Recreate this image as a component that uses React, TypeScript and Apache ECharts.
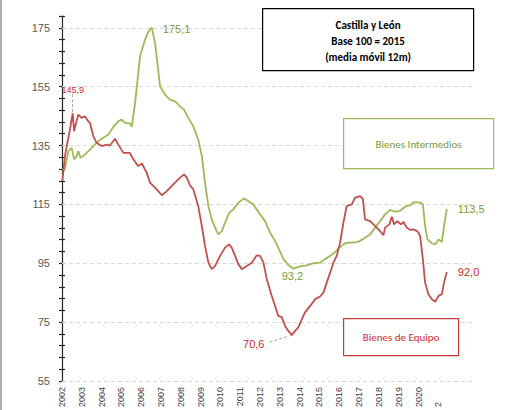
import React, { useEffect, useRef } from "react";
import * as echarts from "echarts";

// Decimal-year positions and values
const redYears = [2002.02, 2002.15, 2002.24, 2002.37, 2002.54, 2002.61, 2002.82, 2002.99, 2003.16, 2003.33, 2003.41, 2003.58, 2003.75, 2004.01, 2004.26, 2004.42, 2004.68, 2004.84, 2005.1, 2005.43, 2005.6, 2005.85, 2006.03, 2006.28, 2006.44, 2006.78, 2007.04, 2007.29, 2007.62, 2007.87, 2008.16, 2008.3, 2008.46, 2008.63, 2008.88, 2009.06, 2009.22, 2009.39, 2009.56, 2009.73, 2009.98, 2010.23, 2010.43, 2010.57, 2010.74, 2010.9, 2011.08, 2011.33, 2011.58, 2011.83, 2012.0, 2012.17, 2012.34, 2012.59, 2012.76, 2012.92, 2013.1, 2013.26, 2013.43, 2013.6, 2013.77, 2013.93, 2014.11, 2014.27, 2014.53, 2014.78, 2015.03, 2015.2, 2015.37, 2015.54, 2015.7, 2015.87, 2016.04, 2016.2, 2016.37, 2016.63, 2016.8, 2017.05, 2017.19, 2017.3, 2017.56, 2017.81, 2018.06, 2018.23, 2018.31, 2018.53, 2018.65, 2018.77, 2018.93, 2019.11, 2019.24, 2019.41, 2019.58, 2019.74, 2019.94, 2020.08, 2020.22, 2020.33, 2020.5, 2020.67, 2020.84, 2021.01, 2021.18, 2021.29, 2021.43];
const redValues = [123, 131.4, 134.8, 139.3, 145.9, 139.9, 145.5, 144.4, 144.9, 143.2, 142.7, 138.2, 135.9, 134.8, 135.3, 135, 137.3, 135.3, 132.5, 132.5, 130.3, 128, 128.9, 125.7, 122.4, 120.1, 118.1, 119.5, 121.8, 123.5, 125.2, 124.1, 121.5, 120.1, 114.4, 107.6, 100.9, 95.2, 93, 94.1, 97.5, 100.3, 101.4, 100.3, 97.5, 94.7, 93, 94.1, 95.2, 97.7, 97.5, 95.2, 89.6, 83.9, 80.5, 77.1, 76.6, 73.7, 72, 70.6, 72, 73.2, 76, 78.3, 80.5, 82.8, 83.7, 85, 88.5, 91.8, 95.2, 97.5, 102, 108.5, 114.4, 115, 117.3, 117.8, 116.9, 109.9, 109.3, 107.6, 105.9, 104.5, 107.1, 108.2, 110.8, 108.2, 109.3, 108.2, 109, 107.1, 106.3, 106.5, 105.9, 104.3, 96.4, 88.5, 84.5, 82.8, 81.9, 83.9, 84.5, 88.5, 92.0];

const greenYears = [2002.0, 2002.15, 2002.32, 2002.49, 2002.61, 2002.74, 2002.82, 2002.94, 2003.16, 2003.33, 2003.58, 2003.83, 2004.09, 2004.34, 2004.59, 2004.84, 2005.02, 2005.18, 2005.43, 2005.52, 2005.69, 2005.94, 2006.19, 2006.36, 2006.53, 2006.7, 2006.95, 2007.2, 2007.45, 2007.71, 2007.96, 2008.16, 2008.38, 2008.63, 2008.88, 2009.06, 2009.22, 2009.39, 2009.56, 2009.73, 2009.89, 2010.07, 2010.23, 2010.45, 2010.65, 2010.9, 2011.19, 2011.41, 2011.66, 2012.0, 2012.25, 2012.51, 2012.84, 2013.18, 2013.43, 2013.68, 2014.02, 2014.36, 2014.69, 2015.03, 2015.28, 2015.54, 2015.79, 2016.01, 2016.29, 2016.55, 2016.88, 2017.05, 2017.3, 2017.56, 2017.81, 2018.06, 2018.31, 2018.57, 2018.82, 2019.07, 2019.32, 2019.58, 2019.78, 2020.08, 2020.22, 2020.33, 2020.45, 2020.67, 2020.84, 2021.01, 2021.18, 2021.29, 2021.43];
const greenValues = [126.9, 127.1, 133.1, 134.2, 130.3, 131.4, 133.1, 130.8, 132, 133.1, 134.8, 136.5, 137.6, 138.7, 141.3, 143.2, 143.8, 142.7, 142.5, 141.3, 149.5, 165.3, 170.9, 173.7, 175.1, 169.8, 155.1, 152.3, 150.6, 150, 148.3, 147.2, 144.4, 141.5, 137, 131.4, 122.4, 114.4, 109.9, 107.1, 104.8, 105.9, 108.8, 112.2, 113.3, 115.6, 117, 116.1, 115, 111.6, 109.3, 105.4, 101.5, 96.4, 94.3, 93.2, 93.9, 94.3, 95, 95.2, 96.4, 97.5, 98.8, 100.3, 101.8, 102, 102.2, 102.6, 103.7, 104.8, 107.1, 109.3, 111.6, 113.1, 112.5, 112.8, 114.2, 114.7, 115.8, 115.6, 115, 107.8, 103.1, 101.8, 101.4, 103.1, 102.2, 107.8, 113.5];

const yearLabels = ["2002", "2003", "2004", "2005", "2006", "2007", "2008", "2009", "2010", "2011", "2012", "2013", "2014", "2015", "2016", "2017", "2018", "2019", "2020", "2"];
const gridValues = [55, 75, 95, 115, 135, 155, 175];

const RED = "#C0504D";
const GREEN = "#9BBB59";
const RED_TEXT = "#D02A2A";
const GREEN_TEXT = "#7A9A3A";
const NARROW = 'Carlito, "Liberation Sans Narrow", "Liberation Sans", sans-serif';
const SANS = '"Liberation Sans", Arial, sans-serif';

export default function App() {
  const ref = useRef<HTMLDivElement>(null);
  useEffect(() => {
    if (!ref.current) return;
    const chart = echarts.init(ref.current, undefined, { renderer: "svg" });
    const redData = redYears.map((y, i) => [y, redValues[i]]);
    const greenData = greenYears.map((y, i) => [y, greenValues[i]]);
    const redMinIdx = redValues.indexOf(Math.min(...redValues));
    const redMaxIdx = redValues.indexOf(Math.max(...redValues));
    const greenMinIdx = greenValues.indexOf(Math.min(...greenValues));
    const greenMaxIdx = greenValues.indexOf(Math.max(...greenValues));
    const rl = redData.length - 1;
    const gl = greenData.length - 1;
    const fmt = (v: number) => v.toFixed(1).replace(".", ",");

    chart.setOption({
      animation: false,
      grid: { left: 62, right: 34, top: 16, bottom: 28 },
      xAxis: {
        type: "value",
        min: 2002,
        max: 2022.7,
        interval: 1,
        axisLine: { show: false },
        axisTick: { show: false },
        splitLine: { show: false },
        axisLabel: {
          rotate: 90,
          margin: 6,
          fontSize: 9,
          color: "#404040",
          fontFamily: SANS,
          showMaxLabel: false,
          formatter: (v: number) => {
            const i = Math.round(v - 2002);
            if (i < 0 || i >= yearLabels.length) return "";
            if (i === yearLabels.length - 1) return "{e|" + yearLabels[i] + "}";
            return yearLabels[i];
          },
          rich: { e: { width: 20, align: "left", fontSize: 9, color: "#404040", fontFamily: SANS } },
        },
      },
      yAxis: [
        {
          type: "value",
          min: 55,
          max: 179,
          interval: 4,
          axisLine: { show: true, lineStyle: { color: "#262626", width: 1.2 } },
          axisTick: { show: true, length: 3, lineStyle: { color: "#262626", width: 1.2 } },
          splitLine: { show: false },
          axisLabel: {
            margin: 12,
            fontSize: 11,
            color: "#595959",
            fontFamily: SANS,
            formatter: (v: number) => ((v - 55) % 20 === 0 ? String(v) : ""),
          },
        },
        {
          type: "value",
          min: 55,
          max: 179,
          interval: 4,
          position: "left",
          axisLine: { show: false },
          axisTick: { show: true, inside: true, length: 3, lineStyle: { color: "#262626", width: 1.2 } },
          splitLine: { show: false },
          axisLabel: { show: false },
        },
      ],
      series: [
        {
          type: "line",
          name: "Bienes Intermedios",
          data: greenData,
          showSymbol: false,
          symbol: "none",
          lineStyle: { color: GREEN, width: 1.8 },
          z: 3,
          markLine: {
            silent: true,
            symbol: "none",
            label: { show: false },
            lineStyle: { color: "#D9D9D9", type: [4, 3], width: 1 },
            data: gridValues.map((v) => ({ yAxis: v })),
            z: 1,
          },
          markPoint: {
            symbol: "circle",
            symbolSize: 0,
            data: [
              {
                coord: greenData[greenMaxIdx],
                label: { show: true, formatter: fmt(greenValues[greenMaxIdx]), position: "right", distance: 11, offset: [0, 2], color: GREEN_TEXT, fontSize: 11, fontFamily: SANS },
              },
              {
                coord: greenData[greenMinIdx],
                label: { show: true, formatter: fmt(greenValues[greenMinIdx]), position: "bottom", distance: 2, offset: [-1, 0], color: GREEN_TEXT, fontSize: 11, fontFamily: SANS },
              },
              {
                coord: greenData[gl],
                label: { show: true, formatter: fmt(greenValues[gl]), position: "right", distance: 11, color: GREEN_TEXT, fontSize: 11, fontFamily: SANS },
              },
            ],
          },
        },
        {
          type: "line",
          name: "Bienes de Equipo",
          data: redData,
          showSymbol: false,
          symbol: "none",
          lineStyle: { color: RED, width: 1.8 },
          z: 4,
          markLine: {
            silent: true,
            symbol: "none",
            label: { show: false },
            lineStyle: { color: "#A6A6A6", type: [3, 2], width: 1 },
            data: [
              [{ coord: [redYears[redMaxIdx], redValues[redMaxIdx] + 0.4] }, { coord: [redYears[redMaxIdx], redValues[redMaxIdx] + 6.6] }],
              [{ coord: [redYears[redMinIdx] - 1.12, redValues[redMinIdx] - 2.4], lineStyle: { curveness: 0.15 } }, { coord: [redYears[redMinIdx] - 0.12, redValues[redMinIdx] - 0.3] }],
            ],
          },
          markPoint: {
            symbol: "circle",
            symbolSize: 0,
            data: [
              {
                coord: redData[redMaxIdx],
                label: { show: true, formatter: fmt(redValues[redMaxIdx]), position: "top", distance: 0, offset: [0, -19], color: RED_TEXT, fontSize: 9, fontFamily: SANS },
              },
              {
                coord: redData[redMinIdx],
                label: { show: true, formatter: fmt(redValues[redMinIdx]), position: "inside", offset: [-38, 9], color: RED_TEXT, fontSize: 11, fontFamily: SANS },
              },
              {
                coord: redData[rl],
                label: { show: true, formatter: fmt(redValues[rl]), position: "right", distance: 11, color: RED_TEXT, fontSize: 11, fontFamily: SANS },
              },
            ],
          },
        },
      ],
      graphic: [
        { type: "rect", left: 0, top: 0, z: 100, shape: { width: 2, height: 410 }, style: { fill: "#B0B0B0" }, silent: true },
        {
          type: "group",
          left: 262,
          top: 8,
          z: 100,
          children: [
            { type: "rect", z: 100, shape: { x: 0, y: 0, width: 211, height: 62 }, style: { fill: "#fff", stroke: "#000", lineWidth: 1.2 } },
            { type: "text", z: 101, x: 105.5, y: 17, style: { text: "Castilla y León", fill: "#000", font: `bold 11px ${NARROW}`, textAlign: "center", textVerticalAlign: "middle" } },
            { type: "text", z: 101, x: 105.5, y: 33, style: { text: "Base 100 = 2015", fill: "#000", font: `bold 11px ${NARROW}`, textAlign: "center", textVerticalAlign: "middle" } },
            { type: "text", z: 101, x: 105.5, y: 49, style: { text: "(media móvil 12m)", fill: "#000", font: `bold 11px ${NARROW}`, textAlign: "center", textVerticalAlign: "middle" } },
          ],
        },
        {
          type: "group",
          left: 343,
          top: 118,
          z: 100,
          children: [
            { type: "rect", z: 100, shape: { x: 0, y: 0, width: 150, height: 50 }, style: { fill: "#fff", stroke: GREEN, lineWidth: 1.2 } },
            { type: "text", z: 101, x: 75, y: 26, style: { text: "Bienes Intermedios", fill: GREEN_TEXT, font: `11px ${NARROW}`, textAlign: "center", textVerticalAlign: "middle" } },
          ],
        },
        {
          type: "group",
          left: 343,
          top: 318,
          z: 100,
          children: [
            { type: "rect", z: 100, shape: { x: 0, y: 0, width: 115, height: 37 }, style: { fill: "#fff", stroke: "#C83A3A", lineWidth: 1.2 } },
            { type: "text", z: 101, x: 57.5, y: 19, style: { text: "Bienes de Equipo", fill: RED_TEXT, font: `11px ${NARROW}`, textAlign: "center", textVerticalAlign: "middle" } },
          ],
        },
      ],
    });
    return () => chart.dispose();
  }, []);
  return <div ref={ref} style={{ position: "fixed", left: 0, top: 0, width: 506, height: 410, background: "#fff" }} />;
}
